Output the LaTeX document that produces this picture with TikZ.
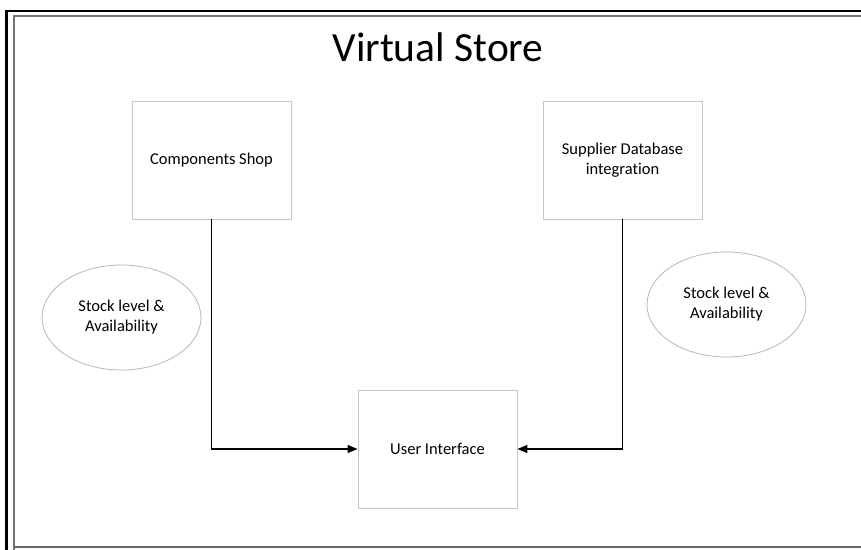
\documentclass[tikz,border=0pt]{standalone}
\usepackage{fontspec}
\setmainfont{Carlito}[Ligatures={NoCommon}]
\usetikzlibrary{arrows.meta,shapes.geometric}
\begin{document}
\begin{tikzpicture}[x=1pt,y=-1pt,
  boxnode/.style={draw=black!22,line width=0.9pt,fill=white,minimum width=159pt,minimum height=118pt,align=center,font=\fontsize{16.5}{20}\selectfont,inner sep=0pt},
  ellnode/.style={ellipse,draw=black!28,line width=0.8pt,fill=white,minimum width=159pt,minimum height=105pt,align=center,font=\fontsize{16.5}{20}\selectfont,inner sep=0pt},
  conn/.style={line width=1.3pt,-{Triangle[length=10pt,width=8pt]}}]
\useasboundingbox (0,0) rectangle (861,549);
\fill[white] (0,0) rectangle (861,549);
% frames
\draw[black,line width=2.6pt] (6.5,552) -- (6.5,11) -- (866,11);
\draw[black!55,line width=2pt] (13.5,552) -- (13.5,15.5) -- (866,15.5);
\draw[black!60,line width=2pt] (13.5,547) -- (866,547);
% title
\node (title) at (438,47) {\fontsize{41.5}{48}\selectfont Virtual Store};
% nodes
\node[boxnode] (shop) at (211.5,160) {Components Shop};
\node[boxnode] (supp) at (622.5,160) {Supplier Database\\integration};
\node[boxnode] (ui) at (437.5,449) {User Interface};
\node[ellnode] (e1) at (121.5,317.5) {Stock level \&\\Availability};
\node[ellnode] (e2) at (726.5,304.5) {Stock level \&\\Availability};
% connectors
\draw[conn] (shop.south) |- (ui.west);
\draw[conn] (supp.south) |- (ui.east);
\end{tikzpicture}
\end{document}
